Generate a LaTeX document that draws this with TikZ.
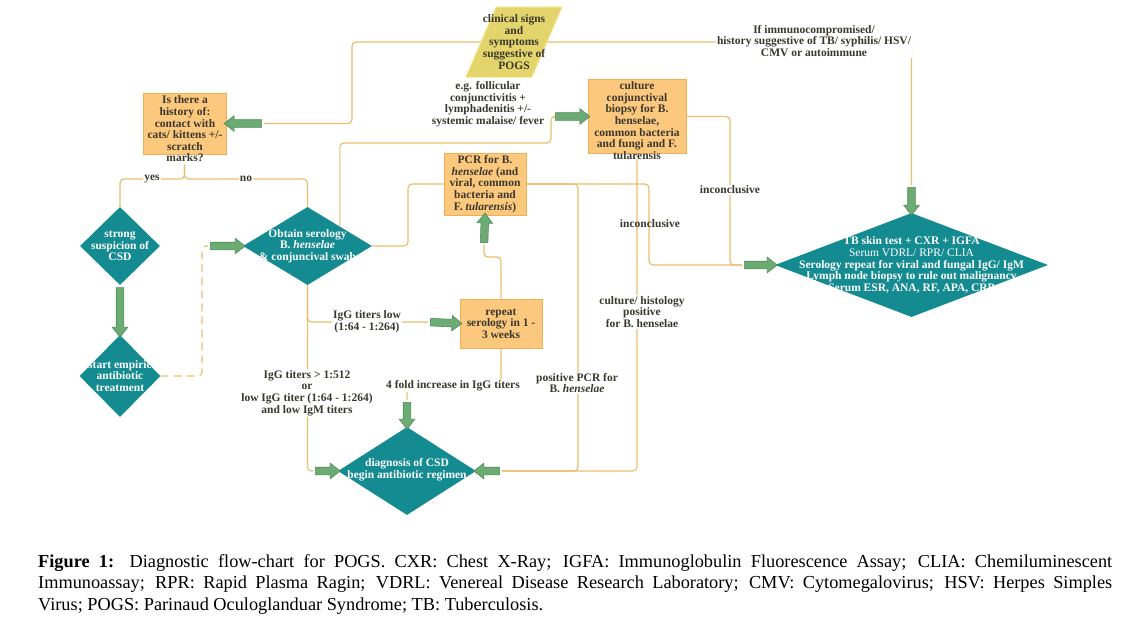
\documentclass[tikz,border=0pt]{standalone}
\usepackage{fontspec}
\setmainfont{Liberation Serif}
\usepackage{tikz}
\usetikzlibrary{shapes.geometric,shapes.arrows,calc}

\definecolor{linegold}{HTML}{EBBD6C}
\definecolor{boxfill}{HTML}{FCC87E}
\definecolor{boxedge}{HTML}{F0AE55}
\definecolor{trapfill}{HTML}{E3D56B}
\definecolor{trapedge}{HTML}{F4E386}
\definecolor{diateal}{HTML}{138B91}
\definecolor{arrowgreen}{HTML}{6CAB74}
\definecolor{arrowedge}{HTML}{4F8F58}
\definecolor{labeltext}{HTML}{3A382C}

% fat green arrow from a point to a node anchor
\newcommand{\greenarrow}[3]{\path let \p1 = ($(#3)-(#2)$) in node [garrow, minimum height={veclen(\x1,\y1)}, rotate={atan2(\y1,\x1)}] (#1) at ($(#2)!0.5!(#3)$) {};}

\begin{document}
\begin{tikzpicture}[x=1pt, y=-1pt,
    conn/.style={draw=linegold, line width=1.2pt, rounded corners=4pt},
    box/.style={draw=boxedge, fill=boxfill, line width=1pt, inner sep=0pt},
    diam/.style={diamond, fill=diateal, inner sep=0pt},
    trap/.style={trapezium, trapezium left angle=78, trapezium right angle=102, trapezium stretches=true, draw=trapedge, fill=trapfill, line width=1pt, inner sep=2pt, minimum width=96, minimum height=70},
    lbl/.style={font=\fontsize{11.5}{11.6}\selectfont\bfseries, text=labeltext, align=center, inner sep=1pt},
    tag/.style={lbl, fill=white},
    dtext/.style={lbl, text=white},
    garrow/.style={single arrow, draw=arrowedge, fill=arrowgreen, line width=0.6pt, inner xsep=0pt, inner ysep=3.5pt, single arrow head extend=4pt, single arrow tip angle=76, single arrow head indent=0pt},
    caption/.style={text width=1074pt, align=justify, inner sep=0pt, font=\fontsize{18.3}{21.7}\selectfont}]
    \useasboundingbox (0,0) rectangle (1122,616);

    % shapes
    \node [trap] (clin) at (514,42) {\strut};
    \node [box, minimum width=83, minimum height=61] (hist) at (184.5,123.5) {};
    \node [box, minimum width=98, minimum height=74] (cult) at (637,116.5) {};
    \node [box, minimum width=82, minimum height=62] (pcr) at (485,184) {};
    \node [box, minimum width=82, minimum height=49] (rep) at (501,323.5) {};
    \node [diam, minimum width=80, minimum height=78] (csd) at (120,246) {};
    \node [diam, minimum width=81, minimum height=82] (emp) at (120,376) {};
    \node [diam, minimum width=129, minimum height=78] (sero) at (307.5,246) {};
    \node [diam, minimum width=273, minimum height=104] (tb) at (911.5,265) {};
    \node [diam, minimum width=138, minimum height=88] (diag) at (407,471) {};

    \coordinate (h1) at (264,123.5);
    \coordinate (a3s) at (208,246);
    \coordinate (a4s) at (553,116.5);
    \coordinate (t5) at (911.5,185);
    \coordinate (a6s) at (742,265);
    \coordinate (a7s) at (428,322);
    \coordinate (a8s) at (484,245);
    \coordinate (a9s) at (407,400);
    \coordinate (a10s) at (313,471);
    \coordinate (a11s) at (502,471);

    % connectors
    \draw [conn] (clin.west) -| (352,123.5) -- (h1);
    \draw [conn] (clin.east) -| (t5);
    \draw [conn] ($(hist.south)+(0,10)$) -- (184.5,179) -| (csd.north);
    \draw [conn] ($(hist.south)+(0,10)$) -- (184.5,179) -| (sero.north);
    \draw [conn, dash pattern=on 8pt off 5pt] (emp.east) -| (202,246) -- (a3s);
    \draw [conn] (sero.east) -- (408,246) |- (pcr.west);
    \draw [conn] (sero.north east) |- (551,143) |- (a4s);
    \draw [conn] (cult.east) -| (730,265) -- (a6s);
    \draw [conn] ($(cult.south)+(0,5)$) |- (a11s);
    \draw [conn] (pcr.east) -| (578,471) -- (a11s);
    \draw [conn] (pcr.east) -| (649,265) -- (a6s);
    \draw [conn] (sero.south) |- (a7s);
    \draw [conn] (sero.south) |- (a10s);
    \draw [conn] (rep.north) -- (501,257) -| (a8s);
    \draw [conn] (rep.south) -- (501,386) -| (a9s);

    % labels on the lines
    \node [tag] (imm) at (814,41) {If immunocompromised/\\history suggestive of TB/ syphilis/ HSV/\\CMV or autoimmune};
    \node [lbl] (eg) at (488,104) {e.g. follicular\\conjunctivitis +\\lymphadenitis +/-\\systemic malaise/ fever};
    \node [tag] (yes) at (152,179) {yes};
    \node [tag] (no) at (246,179) {no};
    \node [tag] (inc1) at (730,190) {inconclusive};
    \node [lbl] (inc2) at (650,224) {inconclusive};
    \node [tag] (cpos) at (642,312) {culture/ histology\\positive\\for B. henselae};
    \node [tag] (ppos) at (577,383) {positive PCR for\\B. \textit{henselae}};
    \node [tag] (low) at (367,322) {IgG titers low\\(1:64 - 1:264)};
    \node [tag] (high) at (307,393) {IgG titers > 1:512\\or\\low IgG titer (1:64 - 1:264)\\and low IgM titers};
    \node [tag] (four) at (453,386) {4 fold increase in IgG titers};

    % texts in the shapes
    \node [lbl] (clinT) at (clin) {clinical signs\\and\\symptoms\\suggestive of\\POGS};
    \node [lbl] (histT) at (185,129) {Is there a\\history of:\\contact with\\cats/ kittens +/-\\scratch\\marks?};
    \node [lbl] (cultT) at (637,120.5) {culture\\conjunctival\\biopsy for B.\\henselae,\\common bacteria\\and fungi and F.\\tularensis};
    \node [lbl] (pcrT) at (pcr) {PCR for B.\\\textit{henselae} (and\\viral, common\\bacteria and\\F. \textit{tularensis})};
    \node [lbl] (repT) at (rep) {repeat\\serology in 1 -\\3 weeks};
    \node [dtext] (csdT) at (csd) {strong\\suspicion of\\CSD};
    \node [dtext] (empT) at (emp) {start empiric\\antibiotic\\treatment};
    \node [dtext] (seroT) at (sero) {Obtain serology\\B. \textit{henselae}\\\& conjuncival swab};
    \node [dtext] (tbT) at (tb) {TB skin test + CXR + IGFA\\{\mdseries Serum VDRL/ RPR/ CLIA}\\Serology repeat for viral and fungal IgG/ IgM\\Lymph node biopsy to rule out malignancy\\Serum ESR, ANA, RF, APA, CRP};
    \node [dtext] (diagT) at (407,470) {diagnosis of CSD\\begin antibiotic regimen};

    % green arrows
    \greenarrow{ar1}{h1}{hist.east}
    \greenarrow{ar2}{csd.south}{emp.north}
    \greenarrow{ar3}{a3s}{sero.west}
    \greenarrow{ar4}{a4s}{cult.west}
    \greenarrow{ar5}{t5}{tb.north}
    \greenarrow{ar6}{a6s}{tb.west}
    \greenarrow{ar7}{a7s}{rep.west}
    \greenarrow{ar8}{a8s}{pcr.south}
    \greenarrow{ar9}{a9s}{diag.north}
    \greenarrow{ar10}{a10s}{diag.west}
    \greenarrow{ar11}{a11s}{diag.east}

    \node [caption, anchor=north west] (cap) at (38,554) {\textbf{Figure 1:} Diagnostic flow-chart for POGS. CXR: Chest X-Ray; IGFA: Immunoglobulin Fluorescence Assay; CLIA: Chemiluminescent\linebreak Immunoassay; RPR: Rapid Plasma Ragin; VDRL: Venereal Disease Research Laboratory; CMV: Cytomegalovirus; HSV: Herpes Simples\linebreak Virus; POGS: Parinaud Oculoglanduar Syndrome; TB: Tuberculosis.};
\end{tikzpicture}
\end{document}
